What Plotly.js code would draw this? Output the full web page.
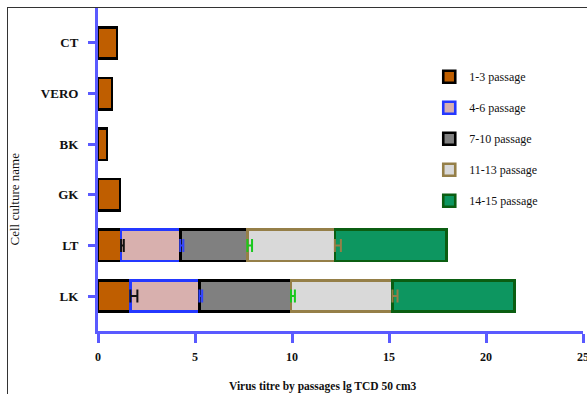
<!DOCTYPE html>
<html>
<head>
<meta charset="utf-8">
<script src="https://cdn.plot.ly/plotly-3.0.1.min.js"></script>
<style>
  html, body { margin: 0; padding: 0; background: #fff; }
  #wrap { position: relative; width: 587px; height: 394px; overflow: hidden; }
  #chart { position: absolute; left: 0; top: 0; width: 587px; height: 394px; }
  #frame { position: absolute; left: 7px; top: 7px; width: 600px; height: 400px;
           border-left: 1.5px solid #333; border-top: 1.5px solid #333; pointer-events: none; }
</style>
</head>
<body>
<div id="wrap"><div id="chart"></div><div id="frame"></div></div>
<script>
// Cell cultures (bottom to top)
const categories = ['LK', 'LT', 'GK', 'BK', 'VERO', 'CT'];
// Virus titre increment per passage group (lg TCD50/cm3), stacked
const p1_3   = [1.67, 1.19, 1.13, 0.46, 0.72, 0.98];
const p4_6   = [3.56, 3.05, null, null, null, null];
const p7_10  = [4.72, 3.46, null, null, null, null];
const p11_13 = [5.23, 4.51, null, null, null, null];
const p14_15 = [6.28, 5.74, null, null, null, null];
// One-sided error values at the end of each segment
const err1_3   = [0.36, 0.14, null, null, null, null];
const err4_6   = [0.14, 0.16, null, null, null, null];
const err7_10  = [0.20, 0.24, null, null, null, null];
const err11_13 = [0.26, 0.31, null, null, null, null];
const seriesNames = ['1-3 passage', '4-6 passage', '7-10 passage', '11-13 passage', '14-15 passage'];
const xTicks = [0, 5, 10, 15, 20, 25];

const series = [p1_3, p4_6, p7_10, p11_13, p14_15];
const errs = [err1_3, err4_6, err7_10, err11_13];
const fills = ['#bf5e00', '#d8b0ae', '#808080', '#d9d9d9', '#0d9660'];
const borders = ['#000000', '#2438ff', '#000000', '#957f48', '#0b5e12'];
const errColors = ['#111111', '#2f42ff', '#19c81e', '#957f48'];

const traces = [];
series.forEach((vals, i) => {
  traces.push({
    type: 'bar', orientation: 'h', y: categories, x: vals, name: seriesNames[i],
    width: 0.62, legendgroup: 'g' + i,
    marker: { color: fills[i], line: { color: borders[i], width: 2.6 } },
    hoverinfo: 'x+y+name'
  });
});
// cumulative ends for error bars
const cum = categories.map(() => 0);
errs.forEach((e, i) => {
  const ends = categories.map((c, k) => { cum[k] += (series[i][k] || 0); return cum[k]; });
  traces.push({
    type: 'scatter', mode: 'markers', y: categories,
    x: ends.map((v, k) => e[k] == null ? null : v),
    marker: { size: 1, opacity: 0 }, showlegend: false, hoverinfo: 'skip',
    error_x: { type: 'data', symmetric: false, array: e.map(v => v == null ? 0 : v),
               arrayminus: e.map(() => 0), color: errColors[i], thickness: 2, width: 6.5 }
  });
});

const axisBlue = '#5a5aff';
const layout = {
  width: 587, height: 394,
  margin: { l: 97.5, r: 3.5, t: 8, b: 63, pad: 0 },
  paper_bgcolor: '#fff', plot_bgcolor: '#fff',
  barmode: 'stack', showlegend: true,
  font: { family: 'Liberation Serif, Times New Roman, serif', color: '#111' },
  xaxis: {
    range: [0, 25], tickvals: xTicks, ticktext: xTicks.map(String),
    showgrid: false, zeroline: false, showline: true, linecolor: axisBlue, linewidth: 3,
    ticks: 'outside', ticklen: 9, tickwidth: 3, tickcolor: axisBlue,
    tickfont: { family: 'Liberation Serif, serif', size: 12, color: '#111', weight: 'bold' },
    ticklabelstandoff: 4, ticklabeloverflow: 'allow'
  },
  yaxis: {
    type: 'category', categoryorder: 'array', categoryarray: categories,
    range: [-0.69, 5.69],
    showgrid: false, zeroline: false, showline: true, linecolor: axisBlue, linewidth: 3,
    ticks: 'outside', ticklen: 7, tickwidth: 3, tickcolor: axisBlue,
    tickfont: { family: 'Liberation Serif, serif', size: 13, color: '#111', weight: 'bold' },
    ticklabelstandoff: 7
  },
  legend: {
    x: 0.683, xanchor: 'left', y: 0.832, yanchor: 'top',
    traceorder: 'grouped', tracegroupgap: 12,
    font: { family: 'Liberation Serif, serif', size: 12, color: '#111' },
    bgcolor: 'rgba(0,0,0,0)', borderwidth: 0
  },
  annotations: [
    { text: 'Virus titre by passages lg TCD 50 cm3', xref: 'paper', yref: 'paper',
      x: 0.464, y: -0.172, xanchor: 'center', yanchor: 'middle', showarrow: false,
      font: { family: 'Liberation Serif, serif', size: 11.5, color: '#111', weight: 'bold' } },
    { text: 'Cell culture name', xref: 'paper', yref: 'paper', textangle: -90,
      x: -0.172, y: 0.409, xanchor: 'center', yanchor: 'middle', showarrow: false,
      font: { family: 'Liberation Serif, serif', size: 13, color: '#111' } }
  ]
};

Plotly.newPlot('chart', traces, layout, { displayModeBar: false, staticPlot: true });
</script>
</body>
</html>
